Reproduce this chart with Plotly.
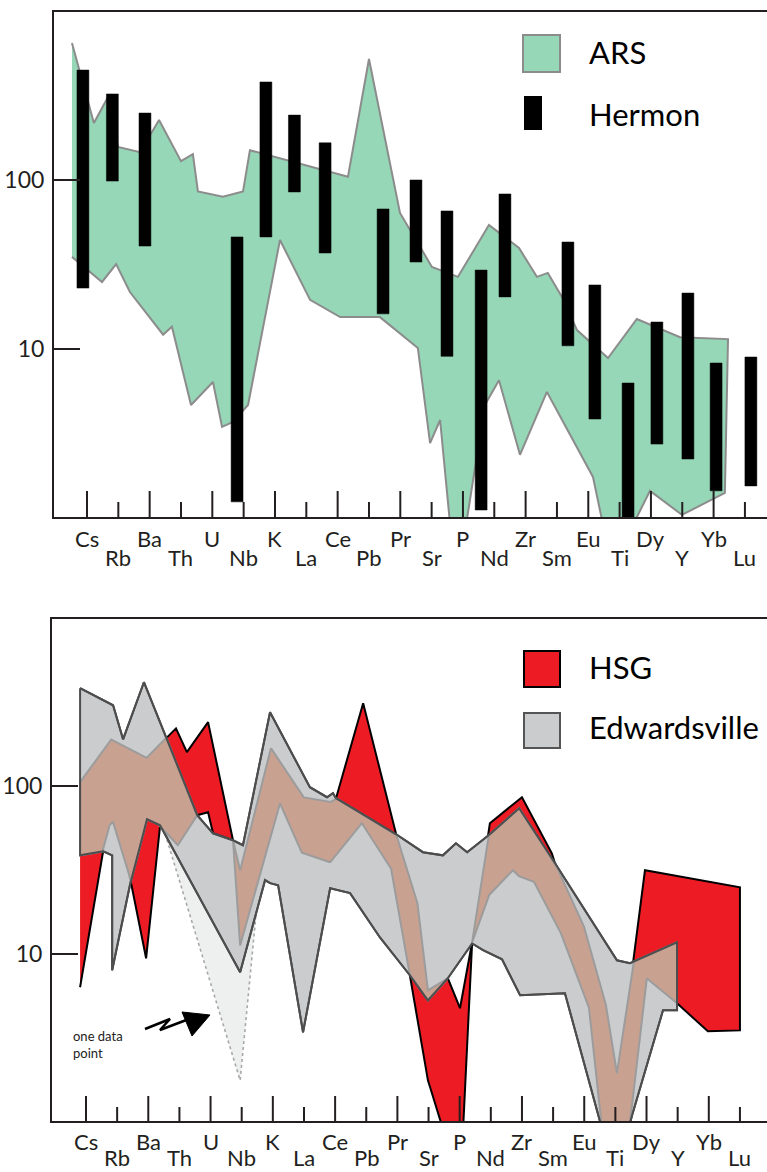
import numpy as np
import plotly.graph_objects as go

# ---------------- data ----------------
elements = ["Cs", "Rb", "Ba", "Th", "U", "Nb", "K", "La", "Ce", "Pb", "Pr",
            "Sr", "P", "Nd", "Zr", "Sm", "Eu", "Ti", "Dy", "Y", "Yb", "Lu"]

# Top panel - ARS field envelope (x = element position index, y = normalized value)
ars_upper_x = [-0.48, 0.22, 0.67, 0.99, 1.69, 2.30, 3.00, 3.38, 3.54, 4.34, 4.98, 5.20, 8.33, 9.00,
               9.99, 11.01, 11.84, 12.83, 13.79, 14.36, 14.71, 15.16, 15.64, 16.63, 17.55, 18.93, 20.46]
ars_upper_y = [654, 219, 313, 158, 147, 228, 130, 143, 86, 80, 86, 151, 105, 526,
               64, 30.6, 26.7, 54.3, 39.6, 26.7, 28.2, 20.3, 12.9, 8.8, 15.0, 11.7, 11.4]
ars_lower_x = [-0.48, 0.48, 0.93, 1.37, 2.43, 2.71, 3.32, 4.02, 4.31, 4.66, 5.14, 6.16, 7.12, 8.08, 9.35,
               10.56, 10.95, 11.27, 11.59, 12.10, 12.70, 13.15, 13.82, 14.68, 16.15, 16.47, 17.43, 17.97,
               18.99, 20.36]
ars_lower_y = [35.1, 24.9, 31.8, 21.7, 12.1, 13.5, 4.63, 6.34, 3.43, 3.67, 4.63, 44.2, 19.5, 15.4, 15.4,
               10.1, 2.75, 3.77, 0.9, 0.9, 4.63, 6.5, 2.34, 5.53, 1.73, 0.9, 0.9, 1.43, 1.03, 1.39]

# Top panel - Hermon ranges
hermon_x = [-0.13, 0.81, 1.85, 4.79, 5.71, 6.62, 7.60, 9.45, 10.50, 11.49, 12.58, 13.34,
            15.35, 16.21, 17.27, 18.19, 19.18, 20.08, 21.19]
hermon_max = [452, 326, 251, 46.1, 384, 244, 167, 67.6, 100.5, 65.8, 29.3, 83,
              43.0, 23.9, 6.25, 14.4, 21.4, 8.22, 8.92]
hermon_min = [22.9, 99, 40.7, 1.23, 46.1, 85.3, 37.0, 16.1, 32.7, 9.0, 1.10, 20.3,
              10.4, 3.82, 1.0, 2.71, 2.21, 1.43, 1.53]

# Bottom panel - HSG envelope
hsg_upper_x = [-0.19, 0.80, 1.93, 2.57, 2.89, 3.24, 3.92, 4.72, 4.95, 5.94, 6.97, 7.84, 8.03, 8.90,
               9.96, 10.63, 10.98, 11.62, 12.01, 12.40, 12.97, 14.00, 14.96, 15.06, 15.96, 16.67,
               17.05, 17.57, 17.95, 21.00]
hsg_upper_y = [106, 191, 147, 194, 222, 160, 242, 47.6, 31.5, 169, 86.1, 80.4, 84.9, 314,
               51.7, 20.9, 6.04, 7.13, 4.72, 11.7, 60.2, 86.1, 39.8, 34.7, 15.2, 5.27,
               1.93, 8.89, 31.5, 24.9]
hsg_lower_x = [-0.19, 0.55, 0.77, 0.87, 1.41, 1.93, 2.38, 2.95, 3.57, 3.92, 4.08, 4.72, 4.95, 6.23,
               6.94, 7.84, 8.86, 9.83, 9.99, 10.40, 10.98, 11.05, 11.46, 12.11, 12.40, 12.97, 13.71,
               13.94, 14.42, 15.32, 16.18, 16.28, 16.57, 17.47, 18.01, 18.98, 19.97, 21.00]
hsg_lower_y = [6.30, 40.9, 59.6, 61.0, 28.6, 9.38, 58.5, 44.5, 67.2, 70.0, 52.4, 47.6, 11.2, 79.2,
               39.8, 35.2, 60.2, 31.5, 20.9, 7.43, 1.75, 1.59, 0.9, 0.9, 11.7, 23.0, 31.5,
               28.6, 26.7, 12.5, 4.59, 3.04, 0.9, 0.9, 7.13, 5.05, 3.44, 3.48]

# Bottom panel - Edwardsville envelope
edw_upper_x = [-0.19, 0.87, 1.19, 1.86, 2.57, 3.57, 4.08, 4.72, 5.04, 5.91, 7.19, 7.74, 7.93, 8.03,
               9.96, 10.82, 11.46, 11.88, 12.24, 12.97, 13.91, 15.00, 17.05, 17.47, 18.98]
edw_upper_y = [386, 305, 191, 419, 197, 67.2, 52.4, 47.6, 44.5, 277, 98.8, 86.1, 91.0, 84.9,
               51.7, 40.4, 38.7, 45.7, 40.4, 51.7, 74.0, 36.2, 9.13, 8.77, 11.7]
edw_lower_x = [-0.19, 0.55, 0.84, 0.84, 1.41, 1.96, 2.38, 2.57, 4.95, 5.75, 5.91, 6.17, 6.97, 7.84,
               8.48, 9.44, 10.40, 10.98, 11.62, 12.40, 12.75, 13.36, 13.94, 15.38, 16.57, 17.41,
               18.53, 18.98]
edw_lower_y = [38.7, 40.9, 38.7, 7.96, 25.6, 63.6, 58.5, 51.0, 7.74, 27.5, 26.4, 25.6, 3.39, 24.6,
               23.0, 12.5, 7.43, 5.26, 7.13, 11.5, 10.5, 9.26, 5.64, 5.80, 0.9, 0.9,
               4.59, 4.59]

# Bottom panel - single-sample Nb excursion ("one data point")
one_point_x = [2.60, 4.95, 5.55]
one_point_y = [48, 1.75, 25.6]

# ---------------- styling ----------------
W, H = 767, 1172
FONT = "Lato"
INK = "#231F20"
GREEN = "#95D7B7"
RED = "#ED1C24"
GREY = "#CBCCCE"
BROWN = "#C9A191"
BAR_W = 0.38


def pxx(v):
    return v / W


def pxy(v):
    return 1 - v / H


def polygon(ux, uy, lx, ly):
    return list(ux) + list(reversed(lx)), list(uy) + list(reversed(ly))


def overlap_field(a_ux, a_uy, a_lx, a_ly, b_ux, b_uy, b_lx, b_ly):
    """Region shared by two envelopes (straight segments on the log axis)."""
    x0 = max(a_ux[0], b_ux[0])
    x1 = min(a_ux[-1], b_ux[-1])
    verts = [v for v in (a_ux + a_lx + b_ux + b_lx) if x0 <= v <= x1]
    g = np.unique(np.concatenate([np.linspace(x0, x1, 4001), verts]))
    up = np.minimum(np.interp(g, a_ux, np.log10(a_uy)), np.interp(g, b_ux, np.log10(b_uy)))
    lo = np.maximum(np.interp(g, a_lx, np.log10(a_ly)), np.interp(g, b_lx, np.log10(b_ly)))
    ok = up > lo + 1e-4
    xs, ys = [], []
    i = 0
    while i < len(g):
        if ok[i]:
            j = i
            while j + 1 < len(g) and ok[j + 1]:
                j += 1
            seg = slice(i, j + 1)
            xs += list(g[seg]) + list(g[seg][::-1]) + [g[i], None]
            ys += list(10 ** up[seg]) + list(10 ** lo[seg][::-1]) + [10 ** up[i], None]
            i = j + 1
        else:
            i += 1
    return xs, ys


fig = go.Figure()

# --- top panel ---
x, y = polygon(ars_upper_x, ars_upper_y, ars_lower_x, ars_lower_y)
fig.add_trace(go.Scatter(x=x, y=y, fill="toself", fillcolor=GREEN, mode="lines",
                         line=dict(color="#8C8C8C", width=2), xaxis="x", yaxis="y",
                         hoverinfo="skip", showlegend=False))

bx, by = [], []
for c, lo, hi in zip(hermon_x, hermon_min, hermon_max):
    bx += [c - BAR_W / 2, c + BAR_W / 2, c + BAR_W / 2, c - BAR_W / 2, c - BAR_W / 2, None]
    by += [lo, lo, hi, hi, lo, None]
fig.add_trace(go.Scatter(x=bx, y=by, fill="toself", fillcolor="black", mode="lines",
                         line=dict(color="black", width=0.5), xaxis="x", yaxis="y",
                         hoverinfo="skip", showlegend=False))

# --- bottom panel ---
fig.add_trace(go.Scatter(x=one_point_x + [one_point_x[0]], y=one_point_y + [one_point_y[0]],
                         fill="toself", fillcolor="#EEF0EF", mode="lines",
                         line=dict(color="#A8A8A8", width=1.6, dash="dot"),
                         xaxis="x2", yaxis="y2", hoverinfo="skip", showlegend=False))
hx, hy = polygon(hsg_upper_x, hsg_upper_y, hsg_lower_x, hsg_lower_y)
fig.add_trace(go.Scatter(x=hx, y=hy, fill="toself", fillcolor=RED, mode="lines",
                         line=dict(color="black", width=2), xaxis="x2", yaxis="y2",
                         hoverinfo="skip", showlegend=False))
ex, ey = polygon(edw_upper_x, edw_upper_y, edw_lower_x, edw_lower_y)
fig.add_trace(go.Scatter(x=ex, y=ey, fill="toself", fillcolor=GREY, mode="lines",
                         line=dict(color="#4D4D4D", width=2), xaxis="x2", yaxis="y2",
                         hoverinfo="skip", showlegend=False))
ox, oy = overlap_field(hsg_upper_x, hsg_upper_y, hsg_lower_x, hsg_lower_y,
                       edw_upper_x, edw_upper_y, edw_lower_x, edw_lower_y)
fig.add_trace(go.Scatter(x=ox, y=oy, fill="toself", fillcolor=BROWN, mode="lines",
                         line=dict(color="#9C9C9C", width=2), xaxis="x2", yaxis="y2",
                         hoverinfo="skip", showlegend=False))
fig.add_trace(go.Scatter(x=ex + [ex[0]], y=ey + [ey[0]], mode="lines",
                         line=dict(color="#4D4D4D", width=2), xaxis="x2", yaxis="y2",
                         hoverinfo="skip", showlegend=False))

# --- axes ---
top_ydom = [pxy(517), pxy(12)]
bot_ydom = [pxy(1121), pxy(619)]
common_x = dict(showline=True, mirror=True, linecolor=INK, linewidth=2, showgrid=False,
                zeroline=False, showticklabels=False, ticks="")
common_y = dict(type="log", range=[0, 3], showline=True, linecolor=INK, linewidth=2,
                showgrid=False, zeroline=False, ticks="inside", ticklen=26, tickwidth=2,
                tickcolor=INK, tickvals=[10, 100], ticktext=["10", "100"],
                tickfont=dict(family=FONT, size=23, color=INK), ticklabelstandoff=3)

fig.update_layout(
    width=W, height=H, margin=dict(l=0, r=0, t=0, b=0),
    paper_bgcolor="white", plot_bgcolor="white",
    xaxis=dict(domain=[pxx(54), 1], range=[(54 - 87) / 31.33, (767 - 87) / 31.33], anchor="y", **common_x),
    yaxis=dict(domain=top_ydom, anchor="x", **common_y),
    xaxis2=dict(domain=[pxx(52), 1], range=[(52 - 86) / 31.14, (767 - 86) / 31.14], anchor="y2", **common_x),
    yaxis2=dict(domain=bot_ydom, anchor="x2", **common_y),
)

shapes = []
annotations = []
for i, el in enumerate(elements):
    for xr, yr, longlen, shortlen, rows in (("x", "y domain", 0.0515, 0.0297, (538.5, 557.5)),
                                            ("x2", "y2 domain", 0.0498, 0.0279, (1141, 1157))):
        long_tick = (i % 2 == 0)
        shapes.append(dict(type="line", xref=xr, yref=yr, x0=i, x1=i, y0=0,
                           y1=longlen if long_tick else shortlen,
                           line=dict(color=INK, width=2), layer="above"))
        annotations.append(dict(x=i, xref=xr, yref="paper", y=pxy(rows[0] if long_tick else rows[1]),
                                text=el, showarrow=False, xanchor="center", yanchor="middle",
                                font=dict(family=FONT, size=22, color=INK)))

# legends (drawn as keys)
shapes += [
    dict(type="rect", xref="paper", yref="paper", x0=pxx(523), x1=pxx(560), y0=pxy(72), y1=pxy(35),
         fillcolor=GREEN, line=dict(color="#8C8C8C", width=2)),
    dict(type="rect", xref="paper", yref="paper", x0=pxx(524), x1=pxx(542), y0=pxy(130), y1=pxy(96),
         fillcolor="black", line=dict(width=0)),
    dict(type="rect", xref="paper", yref="paper", x0=pxx(524), x1=pxx(560), y0=pxy(687), y1=pxy(651),
         fillcolor=RED, line=dict(color="black", width=2)),
    dict(type="rect", xref="paper", yref="paper", x0=pxx(524), x1=pxx(560), y0=pxy(748), y1=pxy(713),
         fillcolor=GREY, line=dict(color="#555555", width=2)),
]
for txt, yy in (("ARS", 52), ("Hermon", 114), ("HSG", 667), ("Edwardsville", 727)):
    annotations.append(dict(x=pxx(587), y=pxy(yy), xref="paper", yref="paper", text=txt,
                            showarrow=False, xanchor="left", yanchor="middle",
                            font=dict(family=FONT, size=31, color="black")))

# "one data point" note with zig-zag arrow
annotations.append(dict(x=pxx(71), y=pxy(1044), xref="paper", yref="paper", text="one data<br>point",
                        showarrow=False, xanchor="left", yanchor="middle", align="left",
                        font=dict(family=FONT, size=13, color="#222222")))


def path(pts, close=False):
    s = "M " + " L ".join(f"{pxx(a):.5f},{pxy(b):.5f}" for a, b in pts)
    return s + (" Z" if close else "")


shapes.append(dict(type="path", xref="paper", yref="paper",
                   path=path([(145, 1029), (170, 1019), (160, 1030), (189, 1019)]),
                   line=dict(color="black", width=2.5)))
shapes.append(dict(type="path", xref="paper", yref="paper",
                   path=path([(182, 1012), (210, 1015), (192, 1036)], close=True),
                   fillcolor="black", line=dict(color="black", width=1)))

fig.update_layout(shapes=shapes, annotations=annotations)
fig.write_html("out.html", config={"displayModeBar": False},
               post_script="document.body.style.margin='0px';document.body.style.overflow='hidden';")
